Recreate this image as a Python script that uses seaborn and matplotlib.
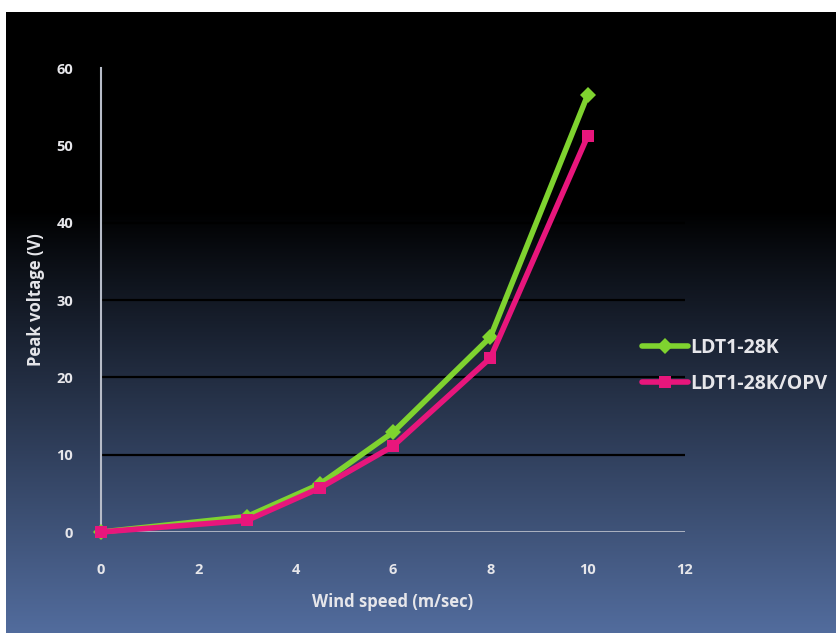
import matplotlib
matplotlib.use("Agg")
import matplotlib.pyplot as plt
import seaborn as sns
import numpy as np
import pandas as pd

wind_speed = [0, 3, 4.5, 6, 8, 10]
ldt_28k = [0, 2.0, 6.2, 12.9, 25.2, 56.5]
ldt_28k_opv = [0, 1.5, 5.7, 11.1, 22.5, 51.2]
series_names = ["LDT1-28K", "LDT1-28K/OPV"]
x_ticks = [0, 2, 4, 6, 8, 10, 12]
y_ticks = [0, 10, 20, 30, 40, 50, 60]

green = "#7fd32f"
pink = "#e8167c"
txt = "#e6e6ea"

sns.set_style("white")
plt.rcParams["font.family"] = ["Open Sans", "DejaVu Sans"]
plt.rcParams["font.weight"] = "bold"

fig = plt.figure(figsize=(8.37, 6.33), dpi=100)
fig.patch.set_facecolor("white")

# gradient background (black on top, slate blue at the bottom)
bg = fig.add_axes([6 / 837, 0, 1 - 6 / 837, 621 / 633])
bg.set_zorder(-1)
rows = np.linspace(0, 1, 400)
t = np.clip((rows - 0.32) / 0.68, 0, 1) ** 0.95
top = np.array([0, 0, 0])
bottom = np.array([82, 108, 157]) / 255
grad = top[None, :] * (1 - t[:, None]) + bottom[None, :] * t[:, None]
bg.imshow(grad[:, None, :], aspect="auto", extent=[0, 1, 1, 0])
bg.axis("off")

ax = fig.add_axes([101 / 837, 101 / 633, 584 / 837, 464 / 633])
ax.patch.set_alpha(0)

df = pd.DataFrame({
    "wind": wind_speed * 2,
    "volt": ldt_28k + ldt_28k_opv,
    "series": [series_names[0]] * len(wind_speed) + [series_names[1]] * len(wind_speed),
})

sns.lineplot(data=df[df.series == series_names[0]], x="wind", y="volt", ax=ax,
             color=green, lw=4, marker="D", markersize=10.5, markeredgewidth=0,
             label=series_names[0], clip_on=False, zorder=3)
sns.lineplot(data=df[df.series == series_names[1]], x="wind", y="volt", ax=ax,
             color=pink, lw=4, marker="s", markersize=13, markeredgewidth=0,
             label=series_names[1], clip_on=False, zorder=4)

ax.set_xlim(0, 12)
ax.set_ylim(0, 60)
ax.set_xticks(x_ticks)
ax.set_yticks(y_ticks)
for y in y_ticks[1:]:
    ax.axhline(y, color="black", lw=1.6, zorder=1)
ax.axhline(0, color="#b7bcc8", lw=2, zorder=2)

for s in ["top", "right", "bottom"]:
    ax.spines[s].set_visible(False)
ax.spines["left"].set_color("#b7bcc8")
ax.spines["left"].set_linewidth(1.5)

ax.tick_params(axis="both", length=0, colors=txt, labelsize=10.5)
ax.tick_params(axis="x", pad=22)
ax.tick_params(axis="y", pad=20)
for lab in ax.get_xticklabels() + ax.get_yticklabels():
    lab.set_fontweight("bold")

ax.set_xlabel("Wind speed (m/sec)", color=txt, fontsize=12, fontweight="bold", labelpad=12)
ax.set_ylabel("Peak voltage (V)", color=txt, fontsize=12, fontweight="bold", labelpad=8)

ax.get_legend().remove()
handles, labels = ax.get_legend_handles_labels()
for h in handles:
    h.set_markersize(8)
leg = fig.legend(handles, labels, loc="center left", bbox_to_anchor=(634 / 837, (633 - 366) / 633),
                 frameon=False, fontsize=14, labelspacing=0.85, handlelength=2.4,
                 handletextpad=0.1, borderaxespad=0)
for t_ in leg.get_texts():
    t_.set_color(txt)
    t_.set_fontweight("bold")

fig.savefig("out.png", dpi=100)
